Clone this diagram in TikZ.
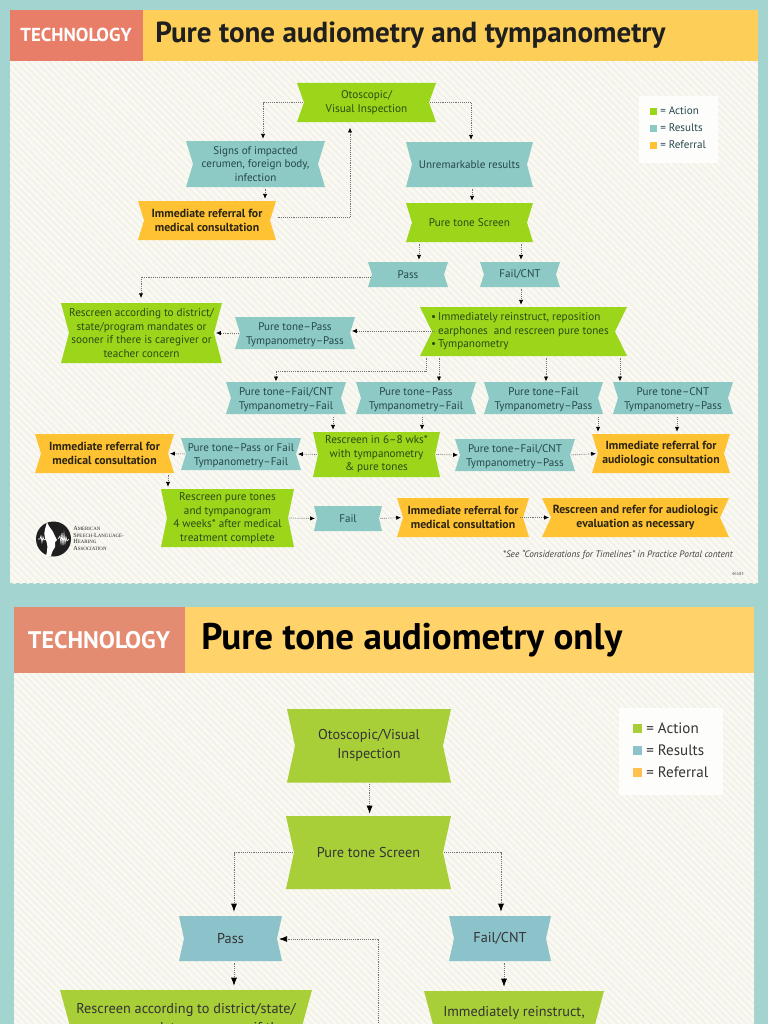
\documentclass[tikz,border=0pt]{standalone}
\usepackage{fontspec}
\setmainfont{PT Sans}
\newfontfamily\logoserif{Liberation Serif}
\usetikzlibrary{arrows.meta,patterns.meta}
\definecolor{frameC}{HTML}{A4D4D0}
\definecolor{panelC}{HTML}{FAF9F3}
\definecolor{stripeC}{HTML}{F3F2E8}
\definecolor{redA}{HTML}{E97E68}
\definecolor{yelA}{HTML}{FDCF58}
\definecolor{redB}{HTML}{E48C72}
\definecolor{yelB}{HTML}{FFD26A}
\definecolor{greenA}{HTML}{9BD61B}
\definecolor{tealA}{HTML}{8DCAC5}
\definecolor{orngA}{HTML}{FFC233}
\definecolor{greenB}{HTML}{A8CF38}
\definecolor{tealB}{HTML}{8CC2C9}
\definecolor{orngB}{HTML}{FFC04D}
\definecolor{txtG}{HTML}{2C4A12}
\definecolor{txtT}{HTML}{26474A}
\definecolor{txtO}{HTML}{2B2410}
\tikzset{
  x=0.75pt,y=-0.75pt,
  panelbg/.style={fill=panelC},
  panelst/.style={pattern={Lines[angle=-45,distance=3.6pt,line width=1.4pt]},pattern color=stripeC},
  actbox/.style={fill=greenA}, resbox/.style={fill=tealA}, refbox/.style={fill=orngA}, restwobox/.style={fill=tealA},
  acttxt/.style={text=txtG,font=\fontsize{8.4}{10.2}\selectfont},
  restxt/.style={text=txtT,font=\fontsize{8.3}{10.2}\selectfont},
  restwotxt/.style={restxt,yshift=-1.2pt},
  reftxt/.style={text=txtO,font=\fontsize{8.8}{10.4}\selectfont\bfseries},
  actBbox/.style={fill=greenB}, resBbox/.style={fill=tealB},
  actBtxt/.style={text=black!80,font=\fontsize{10.7}{14.2}\selectfont},
  resBtxt/.style={text=black!80,font=\fontsize{10.7}{14.2}\selectfont},
  conn/.style={draw=black!55,line width=0.5pt,dash pattern=on 0.7pt off 0.7pt,
    shorten <=1pt,shorten >=1.5pt,-{Latex[black,length=3.6pt,width=3.2pt,sep=0pt]}},
  connB/.style={conn,-{Latex[black,length=6pt,width=4.4pt]}},
  headA/.style={font=\fontsize{21.8}{24}\selectfont\bfseries,text=black!88,anchor=west,inner sep=0},
  techA/.style={font=\fontsize{14.1}{15}\selectfont\bfseries,text=white,inner sep=0},
  legA/.style={font=\fontsize{8.3}{10}\selectfont,text=txtT,anchor=west,inner sep=0},
  legB/.style={font=\fontsize{11.3}{14}\selectfont,text=black!80,anchor=west,inner sep=0},
  logot/.style={anchor=west,inner sep=0,text=black!85,font=\logoserif\fontsize{3.7}{4}\selectfont},
}
\newcommand{\rib}[8]{%
  \fill[#2box] (#3,#4)--(#5,#4)--({#5-#7},{(#4+#6)/2})--(#5,#6)--(#3,#6)--({#3+#7},{(#4+#6)/2})--cycle;
  \node[#2txt,minimum width={(#5-#3)*0.75pt},minimum height={(#6-#4)*0.75pt},inner sep=0pt,align=center]
     (#1) at ({(#3+#5)/2},{(#4+#6)/2}) {#8};
  \coordinate (#1-l) at ({#3+#7},{(#4+#6)/2});
  \coordinate (#1-r) at ({#5-#7},{(#4+#6)/2});
}
\newcommand{\lsc}[2]{{\fontsize{4.7}{4}\selectfont #1}{\fontsize{3.7}{4}\selectfont #2}}
\newcommand{\bul}{\leavevmode\llap{•\,}}
\begin{document}
\begin{tikzpicture}
\useasboundingbox (0,0) rectangle (768,1024);
\clip (0,0) rectangle (768,1024);
\fill[frameC] (0,0) rectangle (768,1024);

% ---- upper panel ----
\fill[panelbg] (10,61) rectangle (758,583);
\fill[panelst] (10,61) rectangle (758,583);
\fill[redA] (10,10) rectangle (143,61);
\fill[yelA] (143,10) rectangle (758,61);
\node[techA] (techa) at (76,35) {TECHNOLOGY};
\node[headA] (titlea) at (155,35.5) {Pure tone audiometry and tympanometry};

\fill[white,opacity=.85] (639,96) rectangle (718,163);
\fill[greenA] (650,107.5) rectangle (657,114.5);
\fill[tealA] (650,124.5) rectangle (657,131.5);
\fill[orngA] (650,141.5) rectangle (657,148.5);
\node[legA] (la1) at (660,110.5) {= Action};
\node[legA] (la2) at (660,127.5) {= Results};
\node[legA] (la3) at (660,144.5) {= Referral};

\rib{oto}{act}{297}{83}{436}{122}{7}{Otoscopic/\\Visual Inspection}
\rib{signs}{res}{186}{141}{325}{187}{7}{Signs of impacted\\cerumen, foreign body,\\infection}
\rib{imma}{ref}{138}{201}{276}{240}{6}{Immediate referral for\\medical consultation}
\rib{unrem}{res}{406}{142}{533}{187}{6}{Unremarkable results}
\rib{pts}{act}{406}{203}{533}{242}{6}{Pure tone Screen}
\rib{pass}{res}{368}{262}{448}{287}{4}{Pass}
\rib{fail}{res}{480}{262}{560}{287}{4}{Fail/CNT}
\rib{resc}{act}{61}{303}{222}{363}{8}{Rescreen according to district/\\state/program mandates or\\sooner if there is caregiver or\\teacher concern}
\rib{pp}{restwo}{235}{317}{355}{349}{5}{Pure tone--Pass\\Tympanometry--Pass}
\rib{reins}{act}{420}{307}{627}{356}{12}{\parbox[c]{128pt}{\raggedright\bul Immediately reinstruct, reposition\par earphones\ \ and rescreen pure tones\par\bul Tympanometry}}
\rib{ra}{restwo}{226}{382}{346}{414}{5}{Pure tone--Fail/CNT\\Tympanometry--Fail}
\rib{rb}{restwo}{356}{382}{476}{414}{5}{Pure tone--Pass\\Tympanometry--Fail}
\rib{rc}{restwo}{484}{382}{603}{414}{5}{Pure tone--Fail\\Tympanometry--Pass}
\rib{rd}{restwo}{613}{382}{733}{414}{5}{Pure tone--CNT\\Tympanometry--Pass}
\rib{wks}{act}{313}{432}{440}{477}{5}{Rescreen in 6--8 wks*\\with tympanometry\\\& pure tones}
\rib{ppf}{restwo}{181}{438}{301}{470}{5}{Pure tone--Pass or Fail\\Tympanometry--Fail}
\rib{immb}{ref}{35}{434}{174}{473}{6}{Immediate referral for\\medical consultation}
\rib{pfc}{restwo}{455}{439}{575}{471}{5}{Pure tone--Fail/CNT\\Tympanometry--Pass}
\rib{immc}{ref}{592}{434}{730}{473}{6}{Immediate referral for\\audiologic consultation}
\rib{rpt}{act}{161}{489}{294}{547}{6}{Rescreen pure tones\\and tympanogram\\4 weeks* after medical\\treatment complete}
\rib{failb}{res}{314}{506}{382}{531}{3}{Fail}
\rib{immd}{ref}{397}{498}{529}{537}{6}{Immediate referral for\\medical consultation}
\rib{rref}{ref}{542}{498}{729}{537}{9}{Rescreen and refer for audiologic\\evaluation as necessary}

\draw[conn] (oto-l) -| (263,0 |- signs.north);
\draw[conn] (oto-r) -| (471,0 |- unrem.north);
\draw[conn] (265,0 |- signs.south) -- (265,0 |- imma.north);
\draw[conn,shorten >=4pt] (imma.east |- 0,217) -| (350,0 |- oto.south);
\draw[conn] (472,0 |- unrem.south) -- (472,0 |- pts.north);
\draw[conn] (419,0 |- pts.south) -- (419,0 |- pass.north);
\draw[conn] (521,0 |- pts.south) -- (521,0 |- fail.north);
\draw[conn,shorten >=3.5pt] (pass-l |- 0,277) -| (141,0 |- resc.north);
\draw[conn] (521,0 |- fail.south) -- (521,0 |- reins.north);
\draw[conn,shorten <=-2pt] (reins-l |- 0,331) -- (pp-r |- 0,331);
\draw[conn] (pp-l |- 0,333) -- (resc-r |- 0,333);
\coordinate (bend) at (426,371);
\draw[conn] (426,0 |- reins.south) -- (bend) -| (276,0 |- ra.north);
\draw[conn] (439,0 |- reins.south) -- (439,0 |- rb.north);
\draw[conn] (546,0 |- reins.south) -- (546,0 |- rc.north);
\draw[conn] (620,0 |- reins.south) -- (620,0 |- rd.north);
\draw[conn] (333,0 |- ra.south) -- (333,0 |- wks.north);
\draw[conn] (422,0 |- rb.south) -- (422,0 |- wks.north);
\draw[conn] (598,0 |- rc.south) -- (598,0 |- immc.north);
\draw[conn] (677,0 |- rd.south) -- (677,0 |- immc.north);
\draw[conn] (wks-l) -- (ppf-r);
\draw[conn] (ppf-l) -- (immb-r);
\draw[conn] (168,0 |- immb.south) -- (168,0 |- rpt.north);
\draw[conn] (wks-r) -- (pfc-l);
\draw[conn] (pfc-r) -- (immc-l);
\draw[conn] (rpt-r) -- (failb-l);
\draw[conn] (failb-r) -- (immd-l);
\draw[conn,shorten <=-2pt] (immd-r) -- (rref-l);

\node[font=\fontsize{7}{8}\selectfont\itshape,text=black!75,anchor=east,inner sep=0] (foot) at (733,555) {*See “Considerations for Timelines” in Practice Portal content};
\node[font=\fontsize{3.2}{4}\selectfont,text=black!70,anchor=east,inner sep=0] (code) at (744,574) {46183};

% logo
\fill[black!88] (53.5,539) circle (17.5);
\fill[white] (47,522) .. controls (49,528) and (53,530) .. (54,534) -- (57,540) -- (55,542) -- (55,547) .. controls (53,550) and (52,552) .. (51,556) -- (46,556) .. controls (48,548) and (48,544) .. (45,538) .. controls (43,532) and (46,527) .. (47,522) -- cycle;
\draw[white,line width=.5pt] (38,539)--(40,539)--(41,536)--(42,542)--(43,537)--(44,540)--(46,539);
\draw[white,line width=.5pt] (58,539)--(60,536)--(61,543)--(62,533)--(63,545)--(64,534)--(65,543)--(66,537)--(67,541)--(69,539);
\node[logot] (lg1) at (73,528.5) {\lsc{A}{MERICAN}};
\node[logot] (lg2) at (73,535) {\lsc{S}{PEECH}-\lsc{L}{ANGUAGE}-};
\node[logot] (lg3) at (73,541.5) {\lsc{H}{EARING}};
\node[logot] (lg4) at (73,548) {\lsc{A}{SSOCIATION}};

% ---- lower panel ----
\fill[panelbg] (14,673) rectangle (754,1030);
\fill[panelst] (14,673) rectangle (754,1030);
\fill[redB] (14,607) rectangle (185,673);
\fill[yelB] (185,607) rectangle (754,673);
\node[techA,font=\fontsize{18}{20}\selectfont\bfseries] (techb) at (99,640) {TECHNOLOGY};
\node[headA,font=\fontsize{27.8}{30}\selectfont\bfseries,text=black] (titleb) at (201,640) {Pure tone audiometry only};

\fill[white,opacity=.85] (619,708) rectangle (722.5,795);
\fill[greenB] (633,724) rectangle (642,733);
\fill[tealB] (633,746) rectangle (642,755);
\fill[orngB] (633,768) rectangle (642,777);
\node[legB] (lb1) at (646,728) {= Action};
\node[legB] (lb2) at (646,750) {= Results};
\node[legB] (lb3) at (646,772) {= Referral};

\rib{otob}{actB}{287}{709}{451}{782.5}{8}{Otoscopic/Visual\\Inspection}
\rib{ptsb}{actB}{286}{816}{451}{889}{8}{Pure tone Screen}
\rib{passb}{resB}{179}{916}{282}{961}{5}{Pass}
\rib{failc}{resB}{449}{916}{551}{961}{5}{Fail/CNT}
\rib{rescb}{actB}{60}{990}{312}{1084}{13}{Rescreen according to district/state/\\program mandates or sooner if there\\\mbox{}\\\mbox{}}
\rib{reinb}{actB}{424}{991}{604}{1088}{13}{Immediately reinstruct,\\reposition and\\\mbox{}\\\mbox{}}
\draw[connB] (369.6,0 |- otob.south) -- (369.6,0 |- ptsb.north);
\draw[connB,shorten >=3pt] (ptsb-l) -| (234,0 |- passb.north);
\draw[connB,shorten >=3pt] (ptsb-r) -| (501,0 |- failc.north);
\coordinate (lowstart) at (378,1030);
\draw[connB] (lowstart) |- (passb-r |- 0,939);
\draw[connB,shorten >=3pt] (234,0 |- passb.south) -- (234,0 |- rescb.north);
\draw[connB,shorten >=3pt] (504,0 |- failc.south) -- (504,0 |- reinb.north);
\end{tikzpicture}
\end{document}
